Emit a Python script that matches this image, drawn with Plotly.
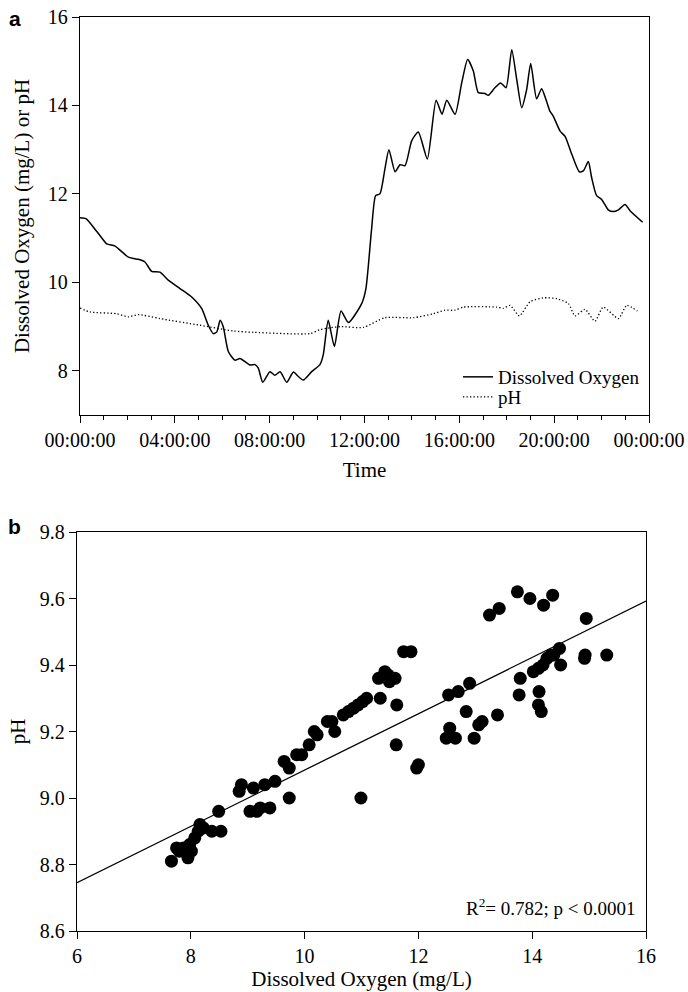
import plotly.graph_objects as go

# ---------------- Panel a: time series ----------------
do_hours = [0.00, 0.25, 0.46, 0.63, 0.84, 1.13, 1.48, 2.04, 2.46, 2.74, 3.02, 3.37, 3.72, 4.22,
            4.71, 5.13, 5.41, 5.62, 5.77, 5.91, 6.04, 6.26, 6.54, 6.75, 7.17, 7.38, 7.52, 7.71,
            8.01, 8.22, 8.44, 8.72, 9.00, 9.21, 9.42, 9.77, 10.12, 10.26, 10.47, 10.73, 11.01,
            11.32, 11.88, 12.06, 12.30, 12.47, 12.65, 12.86, 13.03, 13.29, 13.50, 13.71, 13.99,
            14.27, 14.65, 15.02, 15.27, 15.47, 15.82, 16.10, 16.35, 16.59, 16.80, 17.08, 17.22,
            17.50, 17.74, 17.97, 18.21, 18.42, 18.63, 18.84, 19.01, 19.26, 19.47, 19.65, 19.82,
            19.96, 20.25, 20.46, 20.74, 21.06, 21.23, 21.44, 21.58, 21.79, 22.01, 22.28, 22.49,
            22.71, 22.99, 23.20, 23.73]
do_values = [11.46, 11.44, 11.32, 11.20, 11.06, 10.87, 10.82, 10.57, 10.52, 10.46, 10.25, 10.23,
             10.05, 9.86, 9.67, 9.41, 9.03, 8.84, 8.88, 9.14, 9.00, 8.43, 8.24, 8.28, 8.13, 8.14,
             8.06, 7.74, 7.98, 7.90, 7.98, 7.74, 7.97, 7.87, 7.79, 7.98, 8.14, 8.36, 9.14, 8.55,
             9.35, 9.09, 9.52, 9.86, 11.21, 11.96, 12.00, 12.56, 13.00, 12.50, 12.66, 12.64,
             13.20, 13.40, 12.79, 14.12, 13.80, 14.12, 13.80, 14.51, 15.04, 14.78, 14.29, 14.27,
             14.23, 14.40, 14.51, 14.40, 15.26, 14.59, 13.95, 14.36, 14.95, 14.15, 14.38, 14.14,
             13.87, 13.76, 13.42, 13.30, 12.90, 12.50, 12.52, 12.73, 12.37, 11.96, 11.87, 11.64,
             11.60, 11.64, 11.76, 11.62, 11.36]

ph_hours = [0.00, 0.42, 1.55, 2.04, 2.46, 3.37, 5.06, 6.47, 7.31, 9.70, 10.12, 10.54, 11.01,
            11.95, 12.86, 14.06, 14.90, 15.40, 15.82, 16.17, 17.58, 17.85, 18.14, 18.53, 18.98,
            19.54, 20.11, 20.60, 20.88, 21.30, 21.72, 22.07, 22.71, 23.06, 23.51]
ph_values = [9.42, 9.33, 9.29, 9.22, 9.27, 9.18, 9.03, 8.90, 8.87, 8.84, 8.93, 8.97, 9.00,
             8.98, 9.20, 9.20, 9.29, 9.37, 9.37, 9.44, 9.44, 9.41, 9.48, 9.24, 9.56,
             9.65, 9.63, 9.52, 9.24, 9.39, 9.12, 9.44, 9.18, 9.48, 9.35]

time_tickvals = [0, 4, 8, 12, 16, 20, 24]
time_ticklabels = ["00:00:00", "04:00:00", "08:00:00", "12:00:00", "16:00:00", "20:00:00", "00:00:00"]
top_yticks = [8, 10, 12, 14, 16]

# ---------------- Panel b: scatter ----------------
scatter_do = [7.66, 7.75, 7.80, 7.87, 7.95, 8.01, 7.98, 8.07, 8.13, 8.16, 8.22, 8.37, 8.53, 8.49,
              8.85, 8.89, 9.10, 9.30, 9.48, 9.04, 9.16, 9.22, 9.39, 9.73, 9.64, 9.73, 9.86, 9.95,
              10.08, 10.99, 10.17, 10.22, 10.40, 10.48, 10.53, 10.68, 10.77, 10.86, 10.94, 11.02,
              11.09, 11.33, 11.30, 11.41, 11.47, 11.49, 11.59, 11.62, 11.74, 11.87, 11.61, 12.00,
              11.97, 12.53, 12.70, 12.90, 12.84, 12.55, 12.49, 12.65, 12.98, 13.06, 13.12, 13.39,
              13.25, 13.42, 13.74, 13.96, 14.20, 14.36, 14.95, 13.79, 13.77, 14.02, 14.11, 14.19,
              14.26, 14.33, 14.38, 14.48, 14.50, 14.12, 14.11, 14.16, 14.93, 14.92, 15.31]
scatter_ph = [8.81, 8.85, 8.84, 8.85, 8.82, 8.84, 8.86, 8.88, 8.90, 8.92, 8.91, 8.90, 8.90, 8.96,
              9.02, 9.04, 9.03, 9.04, 9.05, 8.96, 8.96, 8.97, 8.97, 9.00, 9.11, 9.09, 9.13, 9.13,
              9.16, 9.00, 9.20, 9.19, 9.23, 9.23, 9.20, 9.25, 9.26, 9.27, 9.28, 9.29,
              9.30, 9.30, 9.36, 9.38, 9.37, 9.35, 9.36, 9.28, 9.44, 9.44, 9.16, 9.10,
              9.09, 9.31, 9.32, 9.345, 9.26, 9.21, 9.18, 9.18, 9.18, 9.22, 9.23, 9.25,
              9.55, 9.57, 9.62, 9.60, 9.58, 9.61, 9.54, 9.36, 9.31, 9.38, 9.39, 9.40,
              9.42, 9.43, 9.43, 9.45, 9.40, 9.32, 9.28, 9.26, 9.43, 9.42, 9.43]

fit_intercept = 8.237
fit_slope = 0.0847
fit_x = [6, 16]
fit_y = [fit_intercept + fit_slope * v for v in fit_x]

SERIF = "Liberation Serif, Times New Roman, serif"
W, H = 688, 992

fig = go.Figure()
fig.add_trace(go.Scatter(x=do_hours, y=do_values, mode="lines", name="Dissolved Oxygen",
                         line=dict(color="black", width=1.5, shape="spline", smoothing=0.6),
                         xaxis="x", yaxis="y", legend="legend"))
fig.add_trace(go.Scatter(x=ph_hours, y=ph_values, mode="lines", name="pH",
                         line=dict(color="black", width=1.3, dash="1.3px,2.2px", shape="spline", smoothing=0.6),
                         xaxis="x", yaxis="y", legend="legend2"))
fig.add_trace(go.Scatter(x=scatter_do, y=scatter_ph, mode="markers", showlegend=False,
                         marker=dict(color="black", size=13, line=dict(width=0)),
                         xaxis="x2", yaxis="y2"))
fig.add_trace(go.Scatter(x=fit_x, y=fit_y, mode="lines", showlegend=False,
                         line=dict(color="black", width=1.3), xaxis="x2", yaxis="y2"))

axis_common = dict(showline=True, linecolor="black", linewidth=1.3, mirror=True, showgrid=False,
                   zeroline=False, ticks="outside", ticklen=7, tickwidth=1.2, tickcolor="black",
                   automargin=False,
                   tickfont=dict(family=SERIF, size=20, color="black"))

legend_common = dict(xanchor="left", yanchor="middle", bgcolor="rgba(0,0,0,0)", borderwidth=0,
                     font=dict(family=SERIF, size=19, color="black"), itemwidth=30)

fig.update_layout(
    width=W, height=H, margin=dict(l=0, r=0, t=0, b=0, autoexpand=False),
    paper_bgcolor="white", plot_bgcolor="white",
    font=dict(family=SERIF, color="black"),
    xaxis=dict(axis_common, domain=[80 / W, 649 / W], anchor="y", range=[0, 24],
               tickvals=time_tickvals, ticktext=time_ticklabels,
               minor=dict(dtick=1, ticks="outside", ticklen=4, tickwidth=1.2, tickcolor="black", showgrid=False),
               title=dict(text="Time", font=dict(family=SERIF, size=21), standoff=12)),
    yaxis=dict(axis_common, domain=[(H - 415) / H, (H - 17) / H], anchor="x", range=[7, 16],
               tickvals=top_yticks,
               title=dict(text="Dissolved Oxygen (mg/L) or pH", font=dict(family=SERIF, size=21), standoff=12)),
    xaxis2=dict(axis_common, domain=[77 / W, 646 / W], anchor="y2", range=[6, 16], dtick=2,
                title=dict(text="Dissolved Oxygen (mg/L)", font=dict(family=SERIF, size=21), standoff=5)),
    yaxis2=dict(axis_common, domain=[(H - 931) / H, (H - 532) / H], anchor="x2", range=[8.6, 9.8],
                dtick=0.2, tickformat=".1f",
                title=dict(text="pH", font=dict(family=SERIF, size=21), standoff=8)),
    legend=dict(legend_common, x=458 / W, y=(H - 377) / H),
    legend2=dict(legend_common, x=458 / W, y=(H - 397) / H),
    annotations=[
        dict(text="<b>a</b>", x=7 / W, y=(H - 5) / H, xref="paper", yref="paper",
             xanchor="left", yanchor="top", showarrow=False,
             font=dict(family="Liberation Sans, Arial, sans-serif", size=21, color="black")),
        dict(text="<b>b</b>", x=6 / W, y=(H - 513) / H, xref="paper", yref="paper",
             xanchor="left", yanchor="top", showarrow=False,
             font=dict(family="Liberation Sans, Arial, sans-serif", size=21, color="black")),
        dict(text="R<sup>2</sup>= 0.782; p &lt; 0.0001", x=638 / W, y=(H - 921) / H,
             xref="paper", yref="paper", xanchor="right", yanchor="bottom", showarrow=False,
             font=dict(family=SERIF, size=19, color="black")),
    ],
)

fig.write_html("out.html")
